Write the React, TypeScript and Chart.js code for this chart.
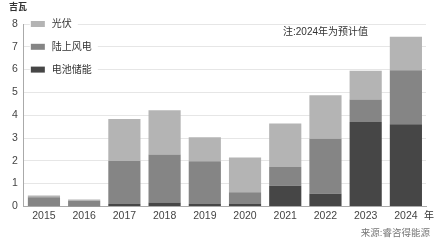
import React, { useEffect, useRef } from "react";
import { Chart, registerables } from "chart.js";

Chart.register(...registerables);

const years = ["2015", "2016", "2017", "2018", "2019", "2020", "2021", "2022", "2023", "2024"];
const battery = [0.02, 0.01, 0.1, 0.17, 0.1, 0.1, 0.91, 0.55, 3.7, 3.6];
const wind = [0.38, 0.23, 1.89, 2.11, 1.88, 0.52, 0.82, 2.42, 0.99, 2.37];
const solar = [0.08, 0.06, 1.84, 1.94, 1.05, 1.53, 1.91, 1.9, 1.26, 1.47];
const seriesNames = ["电池储能", "陆上风电", "光伏"];
const yTicks = [0, 1, 2, 3, 4, 5, 6, 7, 8];

const COLORS = ["#464646", "#858585", "#b4b4b4"];
const FONT = "'Liberation Sans', 'Noto Sans CJK SC', sans-serif";

const extras = {
  id: "extras",
  afterDraw(chart: any) {
    const ctx = chart.ctx;
    const y = chart.scales.y;
    const area = chart.chartArea;
    ctx.save();
    // legend
    const order = [2, 1, 0];
    order.forEach((di, i) => {
      const yy = y.getPixelForValue(8 - i);
      ctx.font = `10px ${FONT}`;
      const tw = ctx.measureText(seriesNames[di]).width;
      ctx.fillStyle = "#ffffff";
      ctx.fillRect(area.left + 6, yy - 6, 28 + tw, 12);
      ctx.fillStyle = COLORS[di];
      ctx.fillRect(area.left + 7, yy - 3, 14, 6);
      ctx.fillStyle = "#333";
      ctx.textAlign = "left";
      ctx.textBaseline = "middle";
      ctx.fillText(seriesNames[di], area.left + 28, yy + 0.5);
    });
    // unit
    ctx.font = `bold 9px ${FONT}`;
    ctx.fillStyle = "#333";
    ctx.textAlign = "left";
    ctx.textBaseline = "middle";
    ctx.fillText("吉瓦", 9, 8);
    // note
    ctx.font = `10px ${FONT}`;
    ctx.fillStyle = "#333";
    ctx.fillText("注:2024年为预计值", 283, 32);
    // x unit
    ctx.fillText("年", 424, 216);
    // source
    ctx.font = `9.5px ${FONT}`;
    ctx.fillStyle = "#777";
    ctx.textAlign = "right";
    ctx.fillText("来源:睿咨得能源", 430, 233);
    ctx.restore();
  },
};

export default function App() {
  const ref = useRef<HTMLCanvasElement>(null);
  useEffect(() => {
    document.body.style.margin = "0";
    const data = [battery, wind, solar];
    const chart = new Chart(ref.current as HTMLCanvasElement, {
      type: "bar",
      data: {
        labels: years,
        datasets: data.map((d, i) => ({
          label: seriesNames[i],
          data: d,
          backgroundColor: COLORS[i],
          borderWidth: 0,
          barPercentage: 0.8,
          categoryPercentage: 1,
        })),
      },
      options: {
        animation: false,
        responsive: false,
        layout: { padding: { left: 6, right: 20, top: 24, bottom: 20 } },
        plugins: { legend: { display: false }, tooltip: { enabled: false } },
        scales: {
          x: {
            stacked: true,
            grid: { display: false, drawTicks: false },
            border: { color: "#aaaaaa" },
            ticks: { color: "#444", font: { family: FONT, size: 10.5 }, padding: 3, maxRotation: 0 },
          },
          y: {
            stacked: true,
            min: 0,
            max: 8,
            afterBuildTicks: (s: any) => {
              s.ticks = yTicks.map((v) => ({ value: v }));
            },
            grid: { color: "#e6e6e6", drawTicks: false },
            border: { color: "#aaaaaa" },
            ticks: { color: "#444", font: { family: FONT, size: 10.5 }, padding: 6 },
          },
        },
      },
      plugins: [extras],
    });
    return () => chart.destroy();
  }, []);
  return <canvas ref={ref} width={446} height={245} style={{ display: "block" }} />;
}
